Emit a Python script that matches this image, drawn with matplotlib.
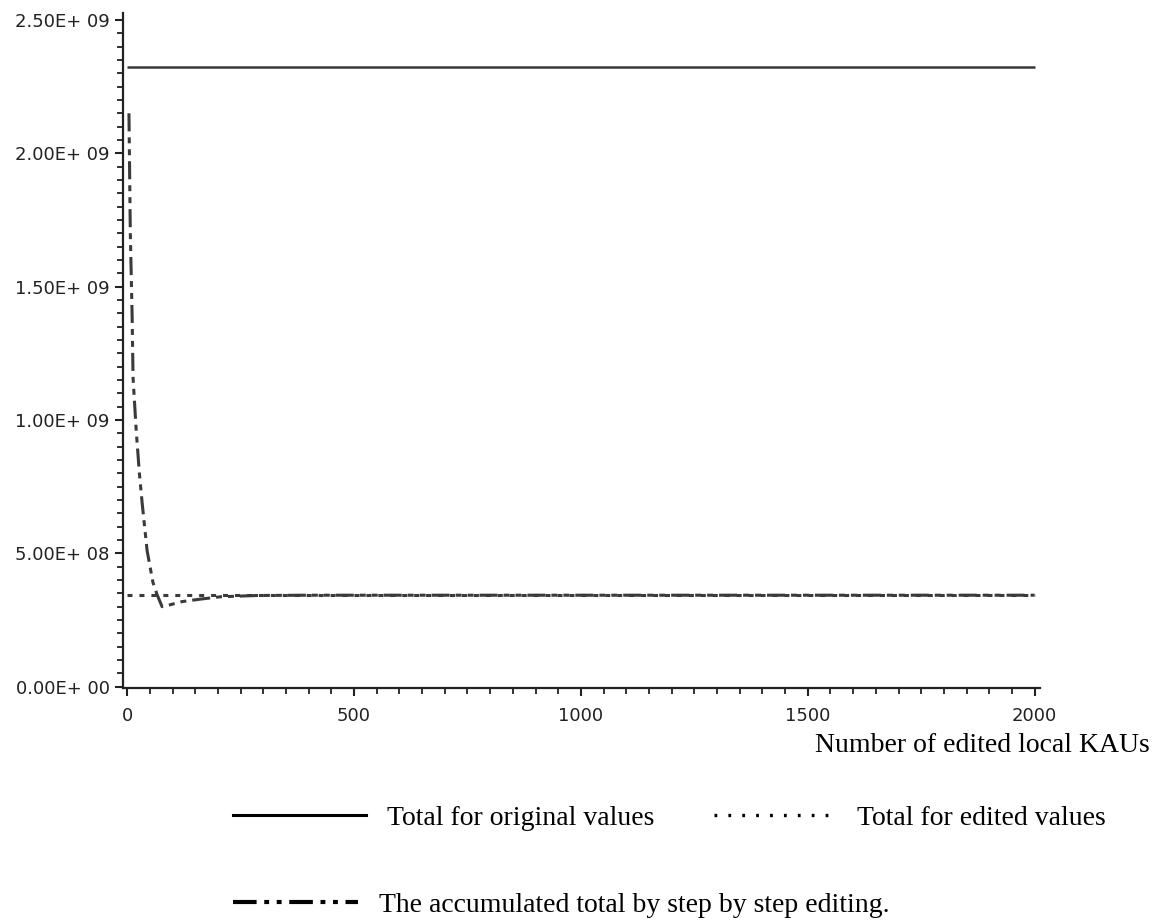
import matplotlib.pyplot as plt
from matplotlib.lines import Line2D
from matplotlib.ticker import MultipleLocator, FuncFormatter

# totals over the whole population
total_original = 2.324e9
total_edited = 3.43e8
n_kau = [0, 2000]

# accumulated total after editing the first n local KAUs
acc_n = [4, 7, 11, 13, 20, 27, 33, 44, 57, 66, 77, 90, 121, 160, 205, 287,
         400, 600, 1000, 1500, 2000]
acc_total = [2.15e9, 1.70e9, 1.39e9, 1.16e9, 0.96e9, 0.80e9, 0.69e9, 0.51e9,
             0.39e9, 0.345e9, 0.300e9, 0.305e9, 0.319e9, 0.328e9, 0.337e9,
             0.342e9, 0.343e9, 0.343e9, 0.343e9, 0.343e9, 0.343e9]

plt.rcParams['lines.scale_dashes'] = False
plt.rcParams['font.family'] = 'DejaVu Sans'

fig = plt.figure(figsize=(11.62, 9.24), dpi=100)
ax = fig.add_axes([0.1059, 0.2554, 0.7892, 0.7305])

col = '#3a3a3a'
ax.plot(n_kau, [total_original, total_original], color=col, lw=1.8,
        solid_capstyle='butt')
ax.plot(n_kau, [total_edited, total_edited], color=col, lw=2.2,
        linestyle=(0, (3.6, 5.0)))
ax.plot(acc_n, acc_total, color=col, lw=2.2,
        linestyle=(0, (13, 4.3, 4.3, 4.3, 4.3, 4.3)))

ax.set_xlim(-9, 2012)
ax.set_ylim(-5e6, 2.526e9)

for s in ['top', 'right']:
    ax.spines[s].set_visible(False)
for s in ['left', 'bottom']:
    ax.spines[s].set_linewidth(1.6)
    ax.spines[s].set_color('#222222')

ax.xaxis.set_major_locator(MultipleLocator(500))
ax.xaxis.set_minor_locator(MultipleLocator(50))
ax.yaxis.set_major_locator(MultipleLocator(5e8))
ax.yaxis.set_minor_locator(MultipleLocator(5e7))


def sas_fmt(v, pos):
    m, e = f'{v:.2E}'.split('E')
    return f'{m}E{e[0]} {e[1:]}'


ax.yaxis.set_major_formatter(FuncFormatter(sas_fmt))
ax.tick_params(which='major', length=6, width=1.5, labelsize=13, colors='#222222')
ax.tick_params(which='minor', length=4, width=1.3, colors='#222222')
ax.tick_params(axis='x', pad=8)

fig.text(1150 / 1162, 1 - 745 / 924, 'Number of edited local KAUs',
         family='Liberation Serif', fontsize=20, ha='right', va='center')

# legend entries placed one by one
entries = [
    (Line2D([], [], color='black', lw=2.2), 'Total for original values', 233, 818, 4.8),
    (Line2D([], [], color='black', lw=2.4, linestyle=(0, (2, 8))),
     'Total for edited values', 714, 818, 4.4),
    (Line2D([], [], color='black', lw=3, linestyle=(0, (17, 5.5, 3.5, 5.5, 3.5, 5.5))),
     'The accumulated total by step by step editing.', 233, 905, 4.5),
]
for h, lab, px, py, hl in entries:
    fig.legend([h], [lab], loc='center left',
               bbox_to_anchor=(px / 1162, 1 - py / 924),
               frameon=False, borderpad=0, borderaxespad=0,
               handlelength=hl, handletextpad=0.75,
               prop={'family': 'Liberation Serif', 'size': 20})

fig.savefig('out.png', dpi=100)
